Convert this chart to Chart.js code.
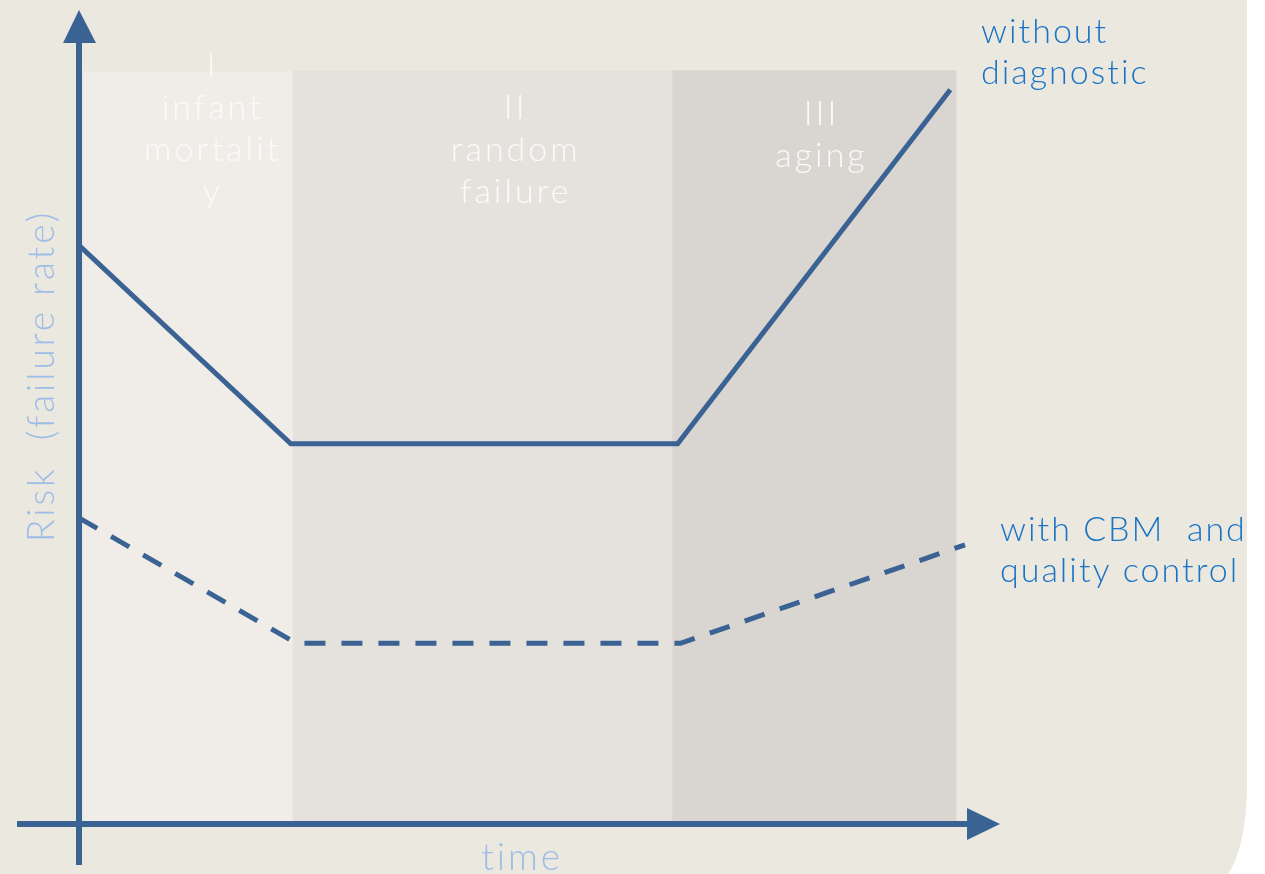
<!DOCTYPE html>
<html>
<head>
<meta charset="utf-8">
<script src="https://cdn.jsdelivr.net/npm/chart.js@4.4.0/dist/chart.umd.min.js"></script>
<style>
  html, body { margin: 0; padding: 0; background: #ffffff; }
  canvas { display: block; }
</style>
</head>
<body>
<canvas id="graficoRisco" width="1265" height="874"></canvas>
<script>
// curvas (tempo 0..100, risco 0..100)
const tempoSem = [0, 23, 65, 94.6];
const riscoSem = [71.1, 46.7, 46.7, 90.2];
const tempoCom = [0, 23.6, 65.3, 96.2];
const riscoCom = [37.6, 22.2, 22.2, 34.3];

// fases
const fasesInicio = [0.5, 23.2, 64.4];
const fasesFim = [23.2, 64.4, 95.3];
const fasesTopo = [92.4, 92.6, 92.6];
const fasesCor = ['#f0ede8', '#e5e2dd', '#d9d6d1'];
const fasesCentro = [14.3, 47.2, 80.4];
const fasesTexto = [['I', 'infant', 'mortalit', 'y'], ['II', 'random', 'failure'], ['III', 'aging']];

const rotuloSem = ['without', 'diagnostic'];
const rotuloCom = ['with CBM  and', 'quality control'];

const azul = '#3a6293';
const fonte = 'Lato, "Open Sans", sans-serif';

const pontos = (xs, ys) => xs.map((x, i) => ({ x: x, y: ys[i] }));

const fasesDatasets = fasesInicio.map((ini, i) => ({
  label: 'fase' + (i + 1),
  data: [{ x: ini, y: fasesTopo[i] }, { x: fasesFim[i], y: fasesTopo[i] }],
  borderWidth: 0,
  pointRadius: 0,
  fill: 'origin',
  backgroundColor: fasesCor[i],
  order: 10
}));

const fundo = {
  id: 'fundo',
  beforeDraw(chart) {
    const { ctx, width, height } = chart;
    ctx.save();
    ctx.fillStyle = '#ffffff';
    ctx.fillRect(0, 0, width, height);
    ctx.fillStyle = '#ebe8e0';
    ctx.beginPath();
    ctx.moveTo(0, 0);
    ctx.lineTo(1247, 0);
    ctx.lineTo(1247, 790);
    ctx.quadraticCurveTo(1245, 850, 1228, 874);
    ctx.lineTo(0, 874);
    ctx.closePath();
    ctx.fill();
    ctx.restore();
  }
};

const textos = {
  id: 'textos',
  afterDatasetsDraw(chart) {
    const { ctx } = chart;
    const x = chart.scales.x, y = chart.scales.y;
    ctx.save();
    ctx.textAlign = 'center';
    ctx.textBaseline = 'middle';

    // nomes das fases
    ctx.fillStyle = '#fbfaf8';
    ctx.font = '300 34px ' + fonte;
    ctx.letterSpacing = '3px';
    fasesTexto.forEach((linhas, i) => {
      const cx = x.getPixelForValue(fasesCentro[i]) + 2;
      const y0 = i === 0 ? 66 : (i === 1 ? 108 : 114);
      linhas.forEach((t, j) => ctx.fillText(t, cx, y0 + j * 42));
    });

    // eixos com setas
    const x0 = x.getPixelForValue(0), yb = y.getPixelForValue(0);
    const yt = y.getPixelForValue(y.max), xr = x.getPixelForValue(x.max);
    ctx.strokeStyle = azul;
    ctx.fillStyle = azul;
    ctx.lineWidth = 6;
    ctx.beginPath();
    ctx.moveTo(x0, yb + 41);
    ctx.lineTo(x0, yt + 30);
    ctx.moveTo(17, yb);
    ctx.lineTo(xr - 30, yb);
    ctx.stroke();
    ctx.beginPath();
    ctx.moveTo(x0, yt);
    ctx.lineTo(x0 - 16, yt + 33);
    ctx.lineTo(x0 + 17, yt + 33);
    ctx.closePath();
    ctx.fill();
    ctx.beginPath();
    ctx.moveTo(xr, yb);
    ctx.lineTo(xr - 33, yb - 16);
    ctx.lineTo(xr - 33, yb + 16);
    ctx.closePath();
    ctx.fill();

    // títulos dos eixos
    ctx.fillStyle = '#9dbde6';
    ctx.font = '300 37px ' + fonte;
    ctx.letterSpacing = '3px';
    ctx.fillText('time', x.getPixelForValue(47.9) + 2, 858);
    ctx.save();
    ctx.translate(42, y.getPixelForValue(54.8));
    ctx.rotate(-Math.PI / 2);
    ctx.fillText('Risk  (failure rate)', 2, 0);
    ctx.restore();

    // rótulos das curvas
    ctx.fillStyle = '#1a73c4';
    ctx.textAlign = 'left';
    ctx.font = '300 34px ' + fonte;
    ctx.letterSpacing = '2px';
    rotuloSem.forEach((t, j) => ctx.fillText(t, 981, 32 + j * 41));
    rotuloCom.forEach((t, j) => ctx.fillText(t, 1000, 530 + j * 41));
    ctx.restore();
  }
};

const ctx = document.getElementById('graficoRisco');
new Chart(ctx, {
  type: 'line',
  data: {
    datasets: [
      {
        label: 'without diagnostic',
        data: pontos(tempoSem, riscoSem),
        borderColor: azul,
        borderWidth: 5,
        pointRadius: 0,
        tension: 0,
        fill: false,
        order: 0
      },
      {
        label: 'with CBM and quality control',
        data: pontos(tempoCom, riscoCom),
        borderColor: azul,
        borderWidth: 5,
        borderDash: [21, 16],
        pointRadius: 0,
        tension: 0,
        fill: false,
        order: 0
      },
      ...fasesDatasets
    ]
  },
  options: {
    responsive: false,
    animation: false,
    layout: { padding: { left: 79, right: 265, top: 10, bottom: 50 } },
    plugins: {
      legend: { display: false },
      tooltip: { enabled: false }
    },
    scales: {
      x: { type: 'linear', min: 0, max: 100, display: false },
      y: { type: 'linear', min: 0, max: 100, display: false }
    }
  },
  plugins: [fundo, textos]
});
</script>
</body>
</html>
